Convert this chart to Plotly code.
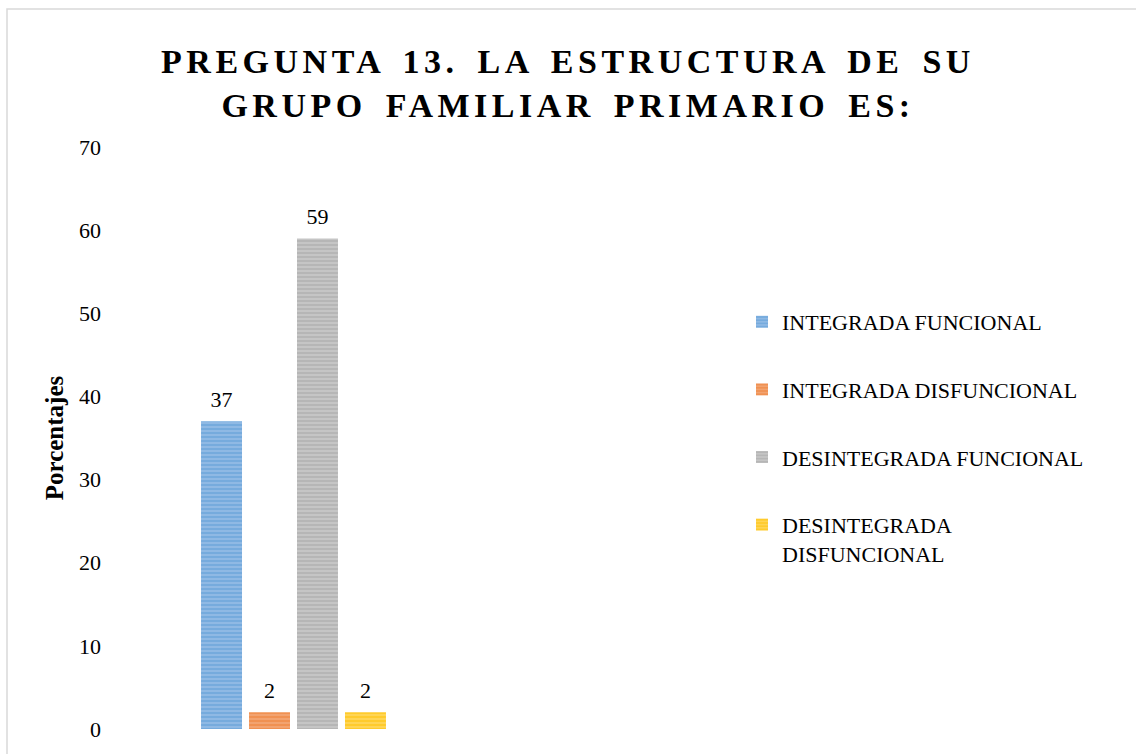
import plotly.graph_objects as go

# ---- data ----
categories = ["INTEGRADA FUNCIONAL", "INTEGRADA DISFUNCIONAL",
              "DESINTEGRADA FUNCIONAL", "DESINTEGRADA DISFUNCIONAL"]
legend_labels = ["INTEGRADA FUNCIONAL", "INTEGRADA DISFUNCIONAL",
                 "DESINTEGRADA FUNCIONAL", "DESINTEGRADA<br>DISFUNCIONAL"]
values = [37, 2, 59, 2]
group_label = ["Pregunta 13"]
y_ticks = [0, 10, 20, 30, 40, 50, 60, 70]
title_text = "PREGUNTA 13. LA ESTRUCTURA DE SU<br>GRUPO FAMILIAR PRIMARIO ES:"
y_title = "Porcentajes"

# ---- styles ----
fg_colors = ["#5B9BD5", "#ED7D31", "#A5A5A5", "#FFC000"]
bg_colors = ["#91BAE5", "#F2A473", "#C6C6C6", "#FFD658"]
FONT = "Liberation Serif, Times New Roman, serif"

W, H = 1136, 754
L, R, T, B = 110, 659, 147, 21

fig = go.Figure()
for i, (cat, lab, v) in enumerate(zip(categories, legend_labels, values)):
    fig.add_trace(go.Bar(
        x=group_label, y=[v], name=lab, legendgroup=cat,
        marker=dict(color=bg_colors[i], line=dict(width=0),
                    pattern=dict(shape="-", fgcolor=fg_colors[i],
                                 bgcolor=bg_colors[i], size=4, solidity=0.55,
                                 fillmode="overlay")),
    ))
# value labels (transparent markers used only to space the text above bars)
for i, (cat, v) in enumerate(zip(categories, values)):
    fig.add_trace(go.Scatter(
        x=group_label, y=[v], text=[str(v)], mode="markers+text",
        textposition="top center", showlegend=False, hoverinfo="skip",
        legendgroup=cat, cliponaxis=False,
        marker=dict(size=13, color="rgba(0,0,0,0)"),
        textfont=dict(family=FONT, size=22, color="#000000"),
    ))

# paper coordinates of the outer chart border
pw, ph = W - L - R, H - T - B
bx0 = (7 - L) / pw
by1 = (H - B - 8) / ph

fig.update_layout(
    width=W, height=H,
    margin=dict(l=L, r=R, t=T, b=B),
    paper_bgcolor="white", plot_bgcolor="white",
    barmode="group", bargap=0.477, bargroupgap=0.146,
    scattermode="group", scattergap=0.477,
    font=dict(family=FONT, size=22, color="#000000"),
    title=dict(text=title_text, x=0.5, xref="container", xanchor="center",
               y=1 - 73 / H, yref="container", yanchor="top",
               font=dict(family=FONT, size=34, color="#000000", weight="bold")),
    xaxis=dict(showticklabels=False, showgrid=False, zeroline=False,
               showline=False, ticks=""),
    yaxis=dict(range=[0, 70], tickvals=y_ticks, showgrid=False,
               zeroline=False, showline=False, ticks="",
               ticklabelstandoff=8,
               tickfont=dict(family=FONT, size=22, color="#000000"),
               title=dict(text=y_title, standoff=8,
                          font=dict(family=FONT, size=25, color="#000000",
                                    weight="bold"))),
    legend=dict(x=742 / W, xref="container", xanchor="left",
                y=1 - 301 / H, yref="container", yanchor="top",
                font=dict(family=FONT, size=22, color="#000000"),
                tracegroupgap=36, valign="top", bgcolor="rgba(0,0,0,0)"),
    showlegend=True,
    shapes=[dict(type="rect", xref="paper", yref="paper",
                 x0=bx0, x1=6, y0=-0.5, y1=by1,
                 line=dict(color="#D9D9D9", width=1.5),
                 fillcolor="rgba(0,0,0,0)", layer="below")],
)

post = ("var s=document.createElement('style');"
        "s.innerHTML='body{margin:0;overflow:hidden}"
        ".gtitle{letter-spacing:4.5px;word-spacing:6px;}';"
        "document.head.appendChild(s);")
fig.write_html("out.html", post_script=post,
               config={"displayModeBar": False})
